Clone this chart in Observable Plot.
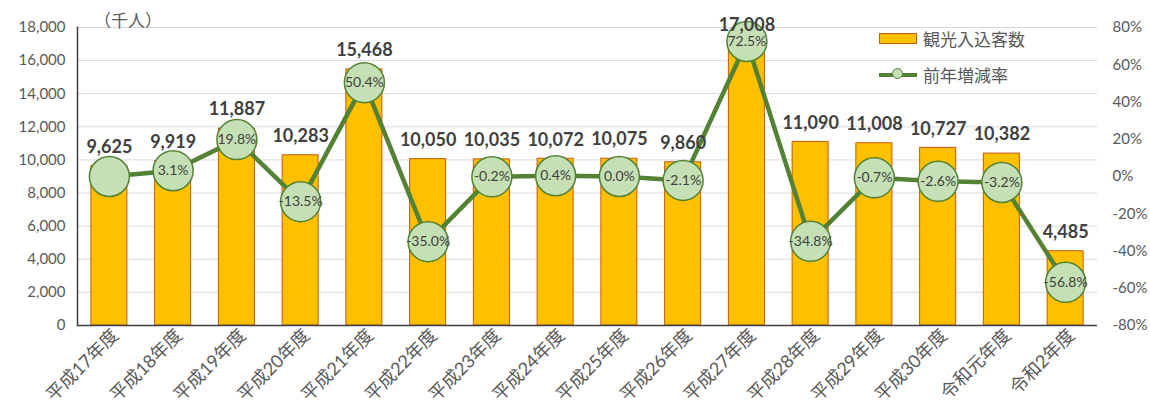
<!DOCTYPE html>
<html>
<head>
<meta charset="utf-8">
<script src="https://cdn.jsdelivr.net/npm/d3@7"></script>
<script src="https://cdn.jsdelivr.net/npm/@observablehq/plot@0.6"></script>
<style>
  body { margin: 0; background: #fff; }
  #wrap { position: relative; width: 1150px; height: 410px; font-family: Lato, "Noto Sans CJK JP", sans-serif; }
  #wrap svg { position: absolute; left: 0; top: 0; }
  .unit { position: absolute; left: 94px; top: 7px; font-size: 17px; color: #595959; }
  .legend { position: absolute; left: 879px; font-size: 17px; color: #595959; display: flex; align-items: center; }
  .sw-bar { width: 36px; height: 9px; background: #ffc000; border: 1px solid #c55a11; margin-right: 6px; }
  .sw-line { position: relative; width: 38px; height: 4px; background: #548235; margin-right: 6px; }
  .sw-line::after { content: ""; position: absolute; left: 13px; top: -5px; width: 11px; height: 11px; border-radius: 50%; background: #c5e0b4; border: 1px solid #548235; box-sizing: border-box; }
</style>
</head>
<body>
<div id="wrap"></div>
<script>
const categories = ["平成17年度","平成18年度","平成19年度","平成20年度","平成21年度","平成22年度","平成23年度","平成24年度","平成25年度","平成26年度","平成27年度","平成28年度","平成29年度","平成30年度","令和元年度","令和2年度"];
const visitors = [9625, 9919, 11887, 10283, 15468, 10050, 10035, 10072, 10075, 9860, 17008, 11090, 11008, 10727, 10382, 4485];
const changes = [0, 3.1, 19.8, -13.5, 50.4, -35.0, -0.2, 0.4, 0.0, -2.1, 72.5, -34.8, -0.7, -2.6, -3.2, -56.8];
const changeLabels = [null, "3.1%", "19.8%", "-13.5%", "50.4%", "-35.0%", "-0.2%", "0.4%", "0.0%", "-2.1%", "72.5%", "-34.8%", "-0.7%", "-2.6%", "-3.2%", "-56.8%"];
const leftTicks = [0, 2000, 4000, 6000, 8000, 10000, 12000, 14000, 16000, 18000];
const rightTicks = [-80, -60, -40, -20, 0, 20, 40, 60, 80];

const data = categories.map((c, i) => ({cat: c, v: visitors[i], pct: changes[i], lab: changeLabels[i]}));

const common = {
  width: 1150, height: 410,
  marginLeft: 77, marginRight: 53, marginTop: 27, marginBottom: 85,
  style: {fontFamily: 'Lato, "Noto Sans CJK JP", sans-serif', fontSize: "15px", color: "#595959", background: "transparent", overflow: "visible"}
};
const xOpt = {domain: categories, paddingInner: 0.435, paddingOuter: 0.2175, round: false, label: null};

const barsLayer = Plot.plot({
  ...common,
  x: xOpt,
  y: {domain: [0, 18000], label: null},
  marks: [
    Plot.gridY(leftTicks, {stroke: "#d9d9d9", strokeOpacity: 1}),
    Plot.barY(data, {x: "cat", y: "v", fill: "#ffc000", stroke: "#c55a11", strokeWidth: 1}),
    Plot.axisY(leftTicks, {tickSize: 0, tickPadding: 12, tickFormat: d3.format(","), label: null}),
    Plot.axisX({tickSize: 0, tickPadding: 7, tickRotate: -45, label: null, fontSize: 18, dx: 6}),
    Plot.ruleY([0], {stroke: "#404040", strokeWidth: 1.5}),
    Plot.frame({anchor: "left", stroke: "#404040", strokeWidth: 1.5})
  ]
});

const lineLayer = Plot.plot({
  ...common,
  x: {...xOpt, axis: null},
  y: {domain: [-80, 80], label: null},
  marks: [
    Plot.line(data, {x: "cat", y: "pct", stroke: "#548235", strokeWidth: 4.5}),
    Plot.dot(data, {x: "cat", y: "pct", r: 20, fill: "#c5e0b4", stroke: "#548235", strokeWidth: 1.5}),
    Plot.text(data.filter(d => d.lab), {x: "cat", y: "pct", text: "lab", fontSize: 14, fill: "#404040"}),
    Plot.axisY(rightTicks, {anchor: "right", tickSize: 0, tickPadding: 15, textAnchor: "start", tickFormat: d => d + "%", label: null})
  ]
});

const labelLayer = Plot.plot({
  ...common,
  x: {...xOpt, axis: null},
  y: {domain: [0, 18000], axis: null},
  marks: [
    Plot.text(data, {x: "cat", y: "v", text: d => d3.format(",")(d.v), dy: -19, fontSize: 18, fontWeight: "bold", fill: "#404040"})
  ]
});

const wrap = document.getElementById("wrap");
wrap.append(barsLayer, lineLayer, labelLayer);

const unit = document.createElement("div");
unit.className = "unit";
unit.textContent = "（千人）";
wrap.append(unit);

const l1 = document.createElement("div");
l1.className = "legend"; l1.style.top = "26px";
l1.innerHTML = '<div class="sw-bar"></div><span>観光入込客数</span>';
const l2 = document.createElement("div");
l2.className = "legend"; l2.style.top = "62px";
l2.innerHTML = '<div class="sw-line"></div><span>前年増減率</span>';
wrap.append(l1, l2);
</script>
</body>
</html>
